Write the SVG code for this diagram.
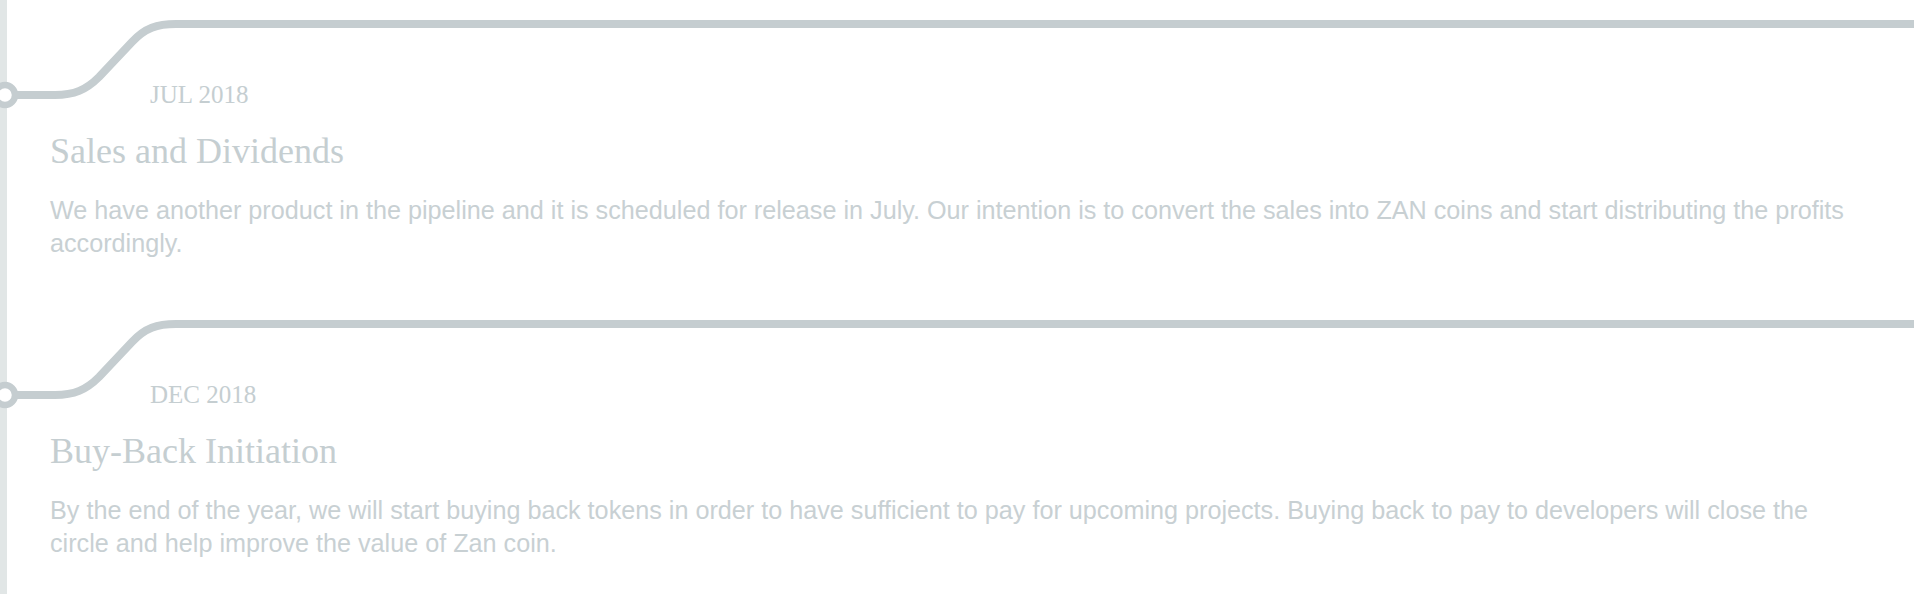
<svg xmlns="http://www.w3.org/2000/svg" width="1916" height="594" viewBox="0 0 1916 594">
<style>
.bg{fill:#ffffff}
.bar{fill:#e1e6e6}
.track{fill:none;stroke:#c5cdd0;stroke-width:8;stroke-linejoin:round}
.dot{fill:#ffffff;stroke:#c5cdd0;stroke-width:6.5}
.date{font-family:"Liberation Serif","Times New Roman",serif;font-size:25px;fill:#c5ced1}
.title{font-family:"Liberation Serif","Times New Roman",serif;font-size:36px;fill:#c5ced1}
.body{font-family:"Liberation Sans",Arial,sans-serif;font-size:25.2px;fill:#c8d0d3}
</style>
<rect class="bg" x="0" y="0" width="1916" height="594"/>
<rect class="bar" x="0" y="0" width="7" height="594"/>
<g id="connectors">
<path class="track" d="M 10 95 H 55 C 74 95, 86 90, 99 77 L 132 42 C 145 28, 157 24, 176 24 H 1914"/>
<path class="track" d="M 10 395 H 55 C 74 395, 86 390, 99 377 L 132 342 C 145 328, 157 324, 176 324 H 1914"/>
</g>
<g id="node-jul-2018">
<circle class="dot" cx="5" cy="95" r="10"/>
<text class="date" x="150" y="103">JUL 2018</text>
<text class="title" x="50" y="163">Sales and Dividends</text>
<text class="body" x="50" y="219">We have another product in the pipeline and it is scheduled for release in July. Our intention is to convert the sales into ZAN coins and start distributing the profits</text>
<text class="body" x="50" y="252">accordingly.</text>
</g>
<g id="node-dec-2018">
<circle class="dot" cx="5" cy="395" r="10"/>
<text class="date" x="150" y="403">DEC 2018</text>
<text class="title" x="50" y="463">Buy-Back Initiation</text>
<text class="body" x="50" y="519">By the end of the year, we will start buying back tokens in order to have sufficient to pay for upcoming projects. Buying back to pay to developers will close the</text>
<text class="body" x="50" y="552">circle and help improve the value of Zan coin.</text>
</g>
</svg>
